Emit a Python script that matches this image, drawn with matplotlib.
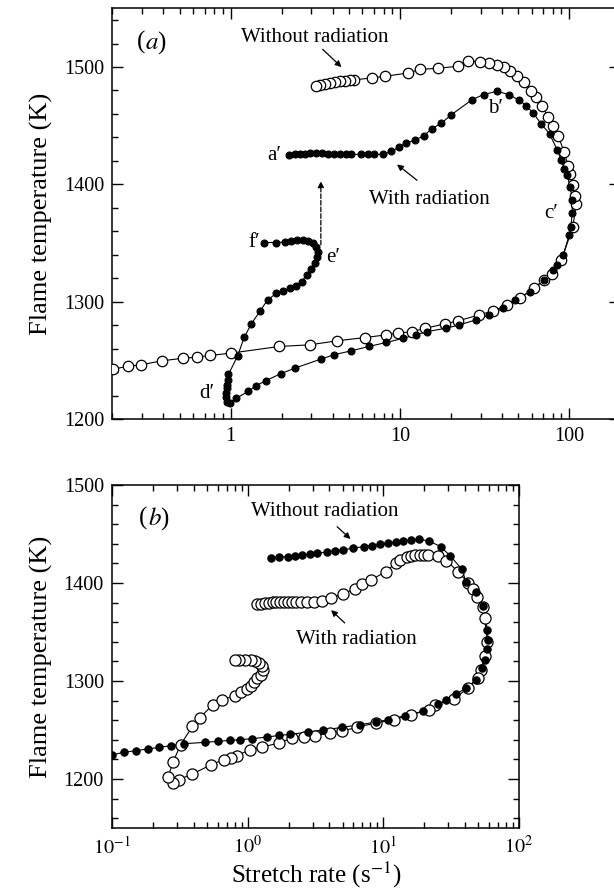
import numpy as np
import matplotlib
matplotlib.use("Agg")
import matplotlib.pyplot as plt
from matplotlib.ticker import FixedLocator, MultipleLocator, NullFormatter, LogLocator

plt.rcParams['font.family'] = ['Liberation Serif', 'DejaVu Serif']
plt.rcParams['mathtext.fontset'] = 'stix'

# panel (a): open circles = without radiation, filled = with radiation
a_open_x = [0.201, 0.246, 0.296, 0.394, 0.524, 0.631, 0.755, 1.0, 1.94, 2.93, 4.24, 6.21,
            8.31, 9.74, 11.85, 14.1, 18.4, 22.1, 29.3, 35.6, 42.9, 51.6, 62.1, 70.9, 78.8,
            90.0, 105.4, 109.9, 108.2, 105.4, 101.1, 98.9, 93.4, 86.2, 80.0, 74.8, 69.1,
            63.8, 59.9, 54.4, 49.0, 44.8, 41.3, 37.6, 33.8, 29.6, 25.2, 21.9, 16.8, 13.2,
            11.2, 8.18, 6.80, 5.38, 5.08, 4.74, 4.43, 4.13, 3.86, 3.60, 3.38, 3.17]
a_open_T = [1242.5, 1244.8, 1246.2, 1249.6, 1251.8, 1252.7, 1254.1, 1256.1, 1261.8, 1263.2,
            1266.6, 1269.4, 1271.7, 1273.1, 1274.5, 1277.3, 1281.0, 1283.6, 1288.7, 1292.1,
            1297.2, 1303.4, 1311.3, 1318.4, 1323.5, 1335.4, 1363.7, 1383.0, 1389.8, 1399.2,
            1409.1, 1415.6, 1427.5, 1441.6, 1450.1, 1457.8, 1467.1, 1474.2, 1479.9, 1487.0,
            1492.6, 1496.9, 1499.7, 1501.7, 1503.4, 1504.5, 1505.1, 1500.6, 1498.9, 1498.0,
            1494.9, 1492.1, 1490.7, 1489.0, 1488.7, 1488.3, 1487.7, 1487.1, 1486.3, 1485.5,
            1484.8, 1484.1]

a_fill_x = [2.21, 2.39, 2.57, 2.73, 2.96, 3.20, 3.47, 3.76, 4.07, 4.40, 4.77, 5.16, 5.89,
            6.44, 7.01, 7.96, 8.90, 9.89, 10.8, 12.2, 13.9, 15.4, 17.6, 20.1, 26.6, 31.2,
            37.6, 44.0, 50.3, 55.9, 61.5, 68.3, 76.7, 85.3, 90.0, 93.4, 97.4, 101.7, 104.3,
            104.3, 102.6, 100.0, 92.4, 85.3, 80.0, 70.9, 58.9, 47.7, 40.6, 33.8, 28.1, 22.5,
            18.7, 14.5, 12.4, 10.5, 8.31, 6.55, 5.16, 4.07, 3.41, 2.39, 1.97, 1.61, 1.41,
            1.27, 1.08, 0.99, 0.95, 0.94, 0.94, 0.95, 0.955, 0.96, 0.97, 1.10, 1.20, 1.32,
            1.49, 1.65, 1.86, 2.04, 2.24, 2.42, 2.62, 2.81, 2.99, 3.14, 3.24, 3.29, 3.20,
            3.07, 2.88, 2.66, 2.46, 2.27, 2.10, 1.84, 1.58]
a_fill_T = [1425.2, 1425.5, 1425.8, 1426.1, 1426.3, 1426.3, 1426.3, 1426.1, 1426.1, 1425.8,
            1425.8, 1425.5, 1425.5, 1425.5, 1425.5, 1425.5, 1428.0, 1431.7, 1435.1, 1437.4,
            1441.6, 1447.3, 1452.1, 1459.2, 1472.0, 1476.5, 1479.3, 1476.5, 1472.0, 1467.1,
            1460.6, 1451.6, 1443.1, 1428.9, 1420.4, 1413.3, 1407.6, 1397.7, 1386.4, 1375.9,
            1363.7, 1356.7, 1339.7, 1331.2, 1326.9, 1318.4, 1308.5, 1301.4, 1294.3, 1288.7,
            1284.4, 1280.2, 1277.3, 1274.5, 1271.7, 1268.8, 1265.2, 1261.8, 1258.1, 1254.7,
            1251.0, 1243.3, 1238.5, 1232.6, 1228.3, 1223.5, 1217.8, 1213.8, 1214.6, 1218.8,
            1222.0, 1226.0, 1228.7, 1233.0, 1238.0, 1254.0, 1269.5, 1280.8, 1292.0, 1301.4,
            1307.1, 1309.1, 1311.3, 1313.6, 1317.0, 1322.7, 1327.5, 1332.6, 1338.2, 1342.5,
            1346.7, 1349.6, 1351.6, 1352.4, 1352.4, 1351.8, 1350.7, 1350.4, 1350.4]

# panel (b): filled = without radiation, open = with radiation
b_fill_x = [0.1, 0.122, 0.149, 0.182, 0.222, 0.270, 0.337, 0.482, 0.600, 0.732, 0.875, 1.07,
            1.39, 1.70, 2.05, 2.76, 3.60, 4.95, 6.67, 8.82, 10.8, 14.5, 19.5, 25.2, 29.1,
            34.4, 40.6, 47.9, 52.9, 56.5, 58.4, 59.2, 58.4, 54.7, 47.9, 40.6, 37.9, 31.1,
            26.4, 21.6, 18.3, 16.0, 14.0, 12.3, 10.8, 9.42, 8.24, 7.22, 5.92, 5.01, 4.39,
            3.85, 3.26, 2.85, 2.50, 2.22, 1.98, 1.70, 1.49]
b_fill_T = [1224.8, 1227.2, 1228.9, 1230.6, 1232.3, 1234.0, 1236.0, 1237.4, 1238.4, 1239.4,
            1240.1, 1241.1, 1242.8, 1244.5, 1245.5, 1247.9, 1249.9, 1252.7, 1255.4, 1258.1,
            1260.5, 1264.6, 1269.0, 1276.5, 1280.2, 1286.6, 1292.8, 1300.6, 1313.1, 1321.6,
            1332.5, 1342.0, 1352.2, 1376.7, 1391.3, 1401.5, 1414.1, 1427.7, 1437.2, 1442.9,
            1444.6, 1444.0, 1442.9, 1441.6, 1440.6, 1439.5, 1438.2, 1437.2, 1435.5, 1433.8,
            1432.8, 1431.7, 1430.4, 1429.4, 1428.3, 1427.7, 1427.0, 1426.3, 1426.0]

b_open_x = [1.16, 1.24, 1.33, 1.42, 1.52, 1.62, 1.73, 1.85, 1.98, 2.12, 2.26, 2.47, 2.71,
            3.05, 3.53, 4.11, 5.01, 6.12, 6.99, 8.14, 10.4, 12.3, 13.3, 15.0, 16.0, 17.1,
            18.5, 19.9, 21.3, 25.2, 29.1, 35.5, 41.9, 45.7, 48.8, 54.7, 55.7, 58.4, 56.5,
            52.2, 49.5, 41.9, 33.2, 23.9, 21.6, 16.0, 11.9, 8.82, 6.41, 4.95, 4.06, 3.15,
            2.58, 2.12, 1.70, 1.27, 1.03, 0.836, 0.757, 0.663, 0.536, 0.390, 0.309, 0.280,
            0.258, 0.280, 0.319, 0.390, 0.440, 0.551, 0.641, 0.809, 0.894, 0.987, 1.05,
            1.11, 1.16, 1.24, 1.29, 1.27, 1.20, 1.13, 1.05, 0.955, 0.865, 0.809]
b_open_T = [1378.7, 1378.7, 1379.4, 1380.1, 1380.8, 1381.1, 1381.1, 1381.1, 1381.1, 1381.1,
            1381.1, 1381.1, 1381.1, 1381.1, 1382.1, 1384.5, 1388.9, 1393.7, 1399.1, 1403.2,
            1411.7, 1420.2, 1423.6, 1426.3, 1427.7, 1428.7, 1428.7, 1428.7, 1428.7, 1427.7,
            1422.9, 1411.7, 1400.5, 1393.7, 1386.2, 1376.0, 1364.1, 1340.3, 1325.7, 1311.5,
            1303.0, 1292.8, 1281.5, 1275.8, 1270.7, 1265.6, 1260.5, 1257.1, 1253.0, 1248.6,
            1246.9, 1244.2, 1242.8, 1241.8, 1236.7, 1232.6, 1229.9, 1223.8, 1221.4, 1219.7,
            1214.6, 1205.1, 1199.3, 1195.9, 1202.0, 1217.0, 1235.0, 1253.7, 1262.2, 1275.8,
            1280.9, 1284.9, 1289.0, 1291.7, 1295.1, 1298.5, 1303.0, 1306.4, 1310.8, 1314.8,
            1318.2, 1320.6, 1321.6, 1321.6, 1321.6, 1321.6]

TICK_FS = 14.5
LABEL_FS = 19
NOTE_FS = 15


def style_axes(ax, ylim, xlim):
    ax.set_xscale('log')
    ax.set_xlim(*xlim)
    ax.set_ylim(*ylim)
    ax.yaxis.set_major_locator(MultipleLocator(100))
    ax.yaxis.set_minor_locator(MultipleLocator(20))
    ax.xaxis.set_minor_locator(LogLocator(base=10, subs=np.arange(2, 10), numticks=20))
    ax.xaxis.set_minor_formatter(NullFormatter())
    ax.tick_params(which='both', direction='in', top=True, right=True, width=1.0)
    ax.tick_params(which='major', length=8, labelsize=TICK_FS, pad=6)
    ax.tick_params(which='minor', length=4)
    for s in ax.spines.values():
        s.set_linewidth(1.1)


def draw_curve(ax, x, y, filled, ms):
    ax.plot(x, y, '-', color='black', lw=0.8, zorder=2)
    if filled:
        ax.plot(x, y, 'o', ls='none', ms=ms, mfc='black', mec='black', mew=0.8, zorder=4)
    else:
        ax.plot(x, y, 'o', ls='none', ms=ms, mfc='white', mec='black', mew=0.9, zorder=3)


fig = plt.figure(figsize=(6.14, 8.96), dpi=100)

# ---- panel (a)
ax1 = fig.add_axes([0.1832, 0.5324, 0.8266, 0.4583])
style_axes(ax1, (1200, 1550), (0.2, 200))
ax1.xaxis.set_major_locator(FixedLocator([1, 10, 100]))
ax1.set_xticklabels(['1', '10', '100'])
draw_curve(ax1, a_open_x, a_open_T, False, 7.5)
draw_curve(ax1, a_fill_x, a_fill_T, True, 5.0)
ax1.set_ylabel('Flame temperature (K)', fontsize=LABEL_FS, labelpad=8)

ax1.text(0.312, 1521, '(', fontsize=18, ha='right', va='center')
ax1.text(0.312, 1521, r'$a$)', fontsize=18, ha='left', va='center')
ax1.text(3.13, 1525, 'Without radiation', fontsize=NOTE_FS, ha='center', va='center')
ax1.annotate('', xy=(4.64, 1498.3), xytext=(3.40, 1516.7),
             arrowprops=dict(arrowstyle='-|>', color='black', lw=0.9, mutation_scale=9))
ax1.text(14.9, 1387.3, 'With radiation', fontsize=NOTE_FS, ha='center', va='center')
ax1.annotate('', xy=(9.33, 1418.4), xytext=(13.0, 1402),
             arrowprops=dict(arrowstyle='-|>', color='black', lw=0.9, mutation_scale=9))
ax1.annotate('', xy=(3.41, 1405), xytext=(3.41, 1346),
             arrowprops=dict(arrowstyle='-|>', color='black', lw=0.9, ls='--',
                             mutation_scale=9))
for lbl, lx, ly, ha in [('a′', 2.0, 1424.5, 'right'), ('b′', 36.6, 1464.3, 'center'),
                        ('c′', 78.8, 1375, 'center'), ('d′', 0.80, 1221.5, 'right'),
                        ('e′', 3.65, 1338, 'left'), ('f′', 1.50, 1350, 'right')]:
    ax1.text(lx, ly, lbl, fontsize=NOTE_FS, ha=ha, va='center')

# ---- panel (b)
ax2 = fig.add_axes([0.1829, 0.0759, 0.6624, 0.3828])
style_axes(ax2, (1150, 1500), (0.1, 100))
ax2.xaxis.set_major_locator(FixedLocator([0.1, 1, 10, 100]))
ax2.set_xticklabels([r'$10^{-1}$', r'$10^{0}$', r'$10^{1}$', r'$10^{2}$'])
draw_curve(ax2, b_open_x, b_open_T, False, 8.0)
draw_curve(ax2, b_fill_x, b_fill_T, True, 5.3)
ax2.set_ylabel('Flame temperature (K)', fontsize=LABEL_FS, labelpad=8)
ax2.set_xlabel('Stretch rate (s$^{-1}$)', fontsize=18, labelpad=1)

ax2.text(0.182, 1466, '(', fontsize=18, ha='right', va='center')
ax2.text(0.182, 1466, r'$b$)', fontsize=18, ha='left', va='center')
ax2.text(3.72, 1472.8, 'Without radiation', fontsize=NOTE_FS, ha='center', va='center')
ax2.annotate('', xy=(5.92, 1443.0), xytext=(4.40, 1459.3),
             arrowprops=dict(arrowstyle='-|>', color='black', lw=0.9, mutation_scale=9))
ax2.text(6.32, 1342, 'With radiation', fontsize=NOTE_FS, ha='center', va='center')
ax2.annotate('', xy=(3.97, 1374.3), xytext=(5.36, 1357.3),
             arrowprops=dict(arrowstyle='-|>', color='black', lw=0.9, mutation_scale=9))

fig.savefig('out.png', dpi=100)
